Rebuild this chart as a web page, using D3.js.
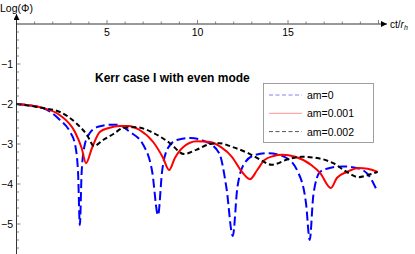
<!DOCTYPE html>
<html>
<head>
<meta charset="utf-8">
<script src="https://cdn.jsdelivr.net/npm/d3@7"></script>
<style>
  body { margin: 0; background: #fff; }
  svg { font-family: "Liberation Sans", Arial, sans-serif; }
</style>
</head>
<body>
<svg width="415" height="254"></svg>
<script>
// values: [t, log(phi)]
var am0 = [
  [0, -2.0], [1.46, -2.1], [2.4, -2.4], [2.96, -2.7], [3.23, -3.0], [3.4, -3.7],
  [3.5, -5.03], [3.6, -3.7], [3.78, -3.0], [4.06, -2.72], [4.5, -2.57], [5.17, -2.52],
  [5.6, -2.52], [6.27, -2.7], [7.0, -3.02], [7.5, -3.7], [7.82, -4.78], [8.04, -3.7],
  [8.37, -3.1], [8.86, -2.9], [9.6, -2.85], [10.5, -2.95], [11.2, -3.23], [11.6, -4.1],
  [11.95, -5.3], [12.2, -4.1], [12.6, -3.48], [13.2, -3.27], [13.9, -3.23], [14.8, -3.32],
  [15.55, -3.7], [16.0, -4.5], [16.2, -5.4], [16.4, -4.28], [16.77, -3.7], [17.3, -3.6],
  [18.05, -3.56], [18.8, -3.6], [19.4, -3.75], [19.9, -4.15]
];
var am001 = [
  [0, -2.0], [1.46, -2.1], [2.4, -2.28], [3.23, -2.7], [3.6, -3.1], [3.84, -3.48],
  [4.17, -3.1], [4.6, -2.7], [5.1, -2.6], [5.7, -2.55], [6.2, -2.55], [6.8, -2.65],
  [7.55, -2.95], [8.1, -3.35], [8.43, -3.65], [8.75, -3.35], [9.2, -3.08], [9.96, -2.93],
  [10.7, -2.95], [11.3, -3.08], [11.9, -3.32], [12.46, -3.7], [12.9, -3.88], [13.3, -3.65],
  [13.7, -3.4], [14.2, -3.3], [14.67, -3.27], [15.4, -3.32], [16.3, -3.53], [16.77, -3.72],
  [17.37, -4.1], [17.7, -3.85], [18.25, -3.7], [18.9, -3.6], [19.4, -3.62], [19.95, -3.7]
];
var am002 = [
  [0, -2.0], [1.46, -2.1], [2.4, -2.2], [3.3, -2.48], [3.9, -2.78], [4.28, -3.05],
  [4.78, -2.9], [5.35, -2.75], [5.9, -2.6], [6.6, -2.58], [7.55, -2.72], [8.48, -2.98],
  [9.25, -3.25], [9.96, -3.14], [10.7, -3.0], [11.2, -2.98], [11.9, -3.07], [12.8, -3.23],
  [13.5, -3.4], [14.1, -3.52], [15.0, -3.38], [15.77, -3.32], [16.6, -3.35], [17.5, -3.48],
  [18.25, -3.7], [18.9, -3.83], [19.4, -3.78], [19.95, -3.7]
];
var series = [
  { name: "am=0", values: am0, color: "#0000ff", dash: "9,4", legendColor: "#8080ff" },
  { name: "am=0.001", values: am001, color: "#ff0000", dash: null, legendColor: "#ff9090" },
  { name: "am=0.002", values: am002, color: "#000000", dash: "5,3", legendColor: "#555555" }
];
var xTicks = [5, 10, 15];
var yTicks = [-1, -2, -3, -4, -5];

var svg = d3.select("svg");

var x = d3.scaleLinear().domain([0, 20]).range([16.5, 378.5]);
var y = d3.scaleLinear().domain([0, -5]).range([24, 224]);

// arrow heads
var defs = svg.append("defs");
defs.append("marker")
  .attr("id", "arrow")
  .attr("viewBox", "0 0 10 10")
  .attr("refX", 10).attr("refY", 5)
  .attr("markerWidth", 10).attr("markerHeight", 6)
  .attr("markerUnits", "userSpaceOnUse")
  .attr("orient", "auto")
  .append("path").attr("d", "M0,0 L10,5 L0,10 z").attr("fill", "#000");

// curves
var line = d3.line()
  .x(function(d){ return x(d[0]) })
  .y(function(d){ return y(d[1]) })
  .curve(d3.curveMonotoneX);

svg.selectAll("path.curve").data(series).enter()
  .append("path")
  .attr("class", "curve")
  .attr("d", function(d){ return line(d.values) })
  .attr("fill", "none")
  .attr("stroke", function(d){ return d.color })
  .attr("stroke-width", 2)
  .attr("stroke-dasharray", function(d){ return d.dash });

// x axis
svg.append("line")
  .attr("x1", x(0)).attr("x2", 387)
  .attr("y1", y(0)).attr("y2", y(0))
  .attr("stroke", "#000").attr("stroke-width", 0.8)
  .attr("marker-end", "url(#arrow)");

svg.selectAll("line.xminor").data(d3.range(1, 21)).enter()
  .append("line")
  .attr("x1", function(d){ return x(d) }).attr("x2", function(d){ return x(d) })
  .attr("y1", y(0)).attr("y2", function(d){ return y(0) - (d % 5 == 0 ? 4 : 2.5) })
  .attr("stroke", "#666").attr("stroke-width", 0.8);

svg.selectAll("text.xlab").data(xTicks).enter()
  .append("text")
  .attr("x", function(d){ return x(d) })
  .attr("y", y(0) + 12)
  .attr("text-anchor", "middle")
  .attr("font-size", 10.5)
  .text(function(d){ return d });

// y axis
svg.append("line")
  .attr("x1", x(0)).attr("x2", x(0))
  .attr("y1", 254).attr("y2", 14)
  .attr("stroke", "#000").attr("stroke-width", 0.8)
  .attr("marker-end", "url(#arrow)");

svg.selectAll("line.yminor").data(d3.range(1, 29)).enter()
  .append("line")
  .attr("x1", x(0)).attr("x2", function(d){ return x(0) + (d % 5 == 0 ? 4 : 2.5) })
  .attr("y1", function(d){ return y(-d * 0.2) }).attr("y2", function(d){ return y(-d * 0.2) })
  .attr("stroke", "#666").attr("stroke-width", 0.8);

svg.selectAll("text.ylab").data(yTicks).enter()
  .append("text")
  .attr("x", 13)
  .attr("y", function(d){ return y(d) + 4 })
  .attr("text-anchor", "end")
  .attr("font-size", 10.5)
  .text(function(d){ return "\u2212" + Math.abs(d) });

// axis labels
svg.append("text").attr("x", 0).attr("y", 12).attr("font-size", 10.5).text("Log(\u03A6)");

var xl = svg.append("text").attr("x", 390).attr("y", 28).attr("font-size", 10);
xl.append("tspan").text("ct/");
xl.append("tspan").attr("font-style", "italic").text("r");
xl.append("tspan").attr("font-style", "italic").attr("font-size", 7).attr("dy", 2).text("h");

// title
svg.append("text")
  .attr("x", 95).attr("y", 82)
  .attr("font-size", 12).attr("font-weight", "bold")
  .text("Kerr case I with even mode");

// legend
var lg = svg.append("g");
lg.append("rect")
  .attr("x", 263.5).attr("y", 83.5).attr("width", 110).attr("height", 59)
  .attr("fill", "#fff").attr("stroke", "#888").attr("stroke-width", 0.8);

var items = lg.selectAll("g.item").data(series).enter()
  .append("g").attr("class", "item")
  .attr("transform", function(d, i){ return "translate(0," + (95 + 18.3 * i) + ")" });

items.append("line")
  .attr("x1", 269).attr("x2", 302).attr("y1", 0).attr("y2", 0)
  .attr("stroke", function(d){ return d.legendColor })
  .attr("stroke-width", 1)
  .attr("stroke-dasharray", function(d){ return d.dash ? "4,2.5" : null });

items.append("text")
  .attr("x", 307).attr("y", 4)
  .attr("font-size", 10.5)
  .text(function(d){ return d.name });
</script>
</body>
</html>
